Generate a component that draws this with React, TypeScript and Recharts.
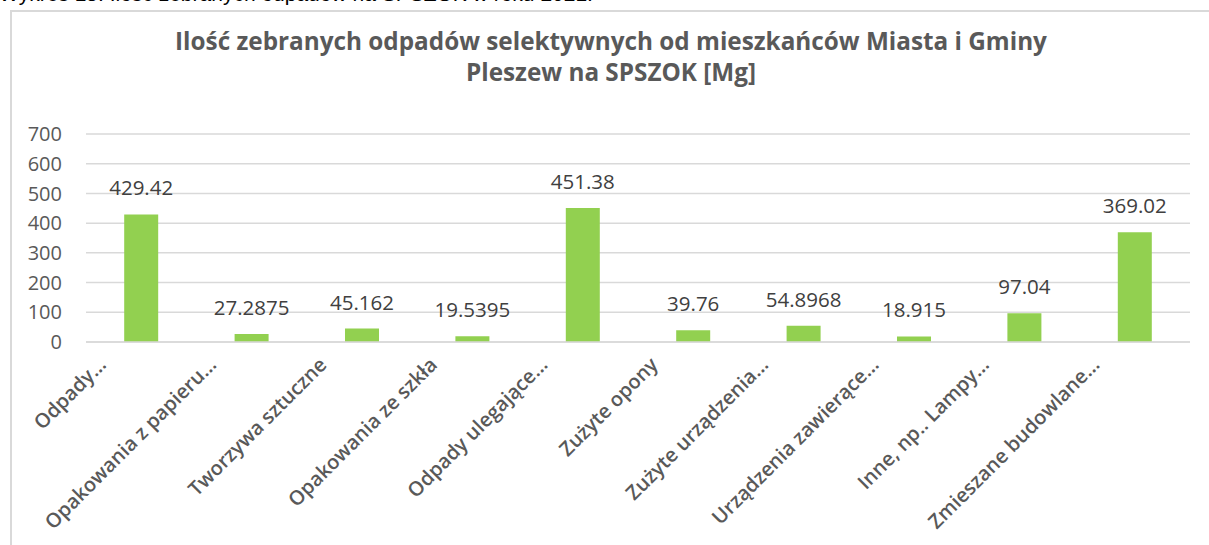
import React from 'react';
import { BarChart, Bar, XAxis, YAxis, CartesianGrid, LabelList } from 'recharts';

const caption = 'Wykres 15. Ilość zebranych odpadów na SPSZOK w roku 2021.';
const titleLines = [
  'Ilość zebranych odpadów selektywnych od mieszkańców Miasta i Gminy',
  'Pleszew na SPSZOK [Mg]',
];
const categories = [
  'Odpady…',
  'Opakowania z papieru…',
  'Tworzywa sztuczne',
  'Opakowania ze szkła',
  'Odpady ulegające…',
  'Zużyte opony',
  'Zużyte urządzenia…',
  'Urządzenia zawierące…',
  'Inne, np.. Lampy…',
  'Zmieszane budowlane…',
];
const values = [429.42, 27.2875, 45.162, 19.5395, 451.38, 39.76, 54.8968, 18.915, 97.04, 369.02];
const yTicks = [0, 100, 200, 300, 400, 500, 600, 700];

const data = categories.map((name, i) => ({ name, value: values[i] }));

const FONT = '"Open Sans", sans-serif';
const GRAY = '#595959';

const XTick = (props: any) => {
  const { x, y, payload } = props;
  return (
    <g transform={`translate(${x - 34},${y})`}>
      <text
        textAnchor="end"
        transform="rotate(-45)"
        fill={GRAY}
        fontSize={20}
        fontWeight={600}
        fontFamily={FONT}
      >
        {payload.value}
      </text>
    </g>
  );
};

export default function App() {
  return (
    <div
      style={{
        position: 'absolute',
        left: 0,
        top: 0,
        width: 1209,
        height: 545,
        overflow: 'hidden',
        background: '#fff',
      }}
    >
      <div
        style={{
          position: 'absolute',
          left: -1,
          top: -16,
          fontFamily: '"Liberation Sans", Arial, sans-serif',
          fontSize: 21,
          lineHeight: '20px',
          color: '#000',
          whiteSpace: 'nowrap',
        }}
      >
        {caption}
      </div>
      <div
        style={{
          position: 'absolute',
          left: 10,
          top: 10,
          width: 1400,
          height: 800,
          borderLeft: '2px solid #d9d9d9',
          borderTop: '2px solid #d9d9d9',
        }}
      />
      <div
        style={{
          position: 'absolute',
          left: 0,
          top: 25,
          width: 1222,
          textAlign: 'center',
          fontFamily: FONT,
          fontWeight: 700,
          fontSize: 24.3,
          lineHeight: '31px',
          color: GRAY,
        }}
      >
        {titleLines.map((l) => (
          <div key={l}>{l}</div>
        ))}
      </div>
      <div style={{ position: 'absolute', left: 0, top: 0 }}>
        <BarChart
          width={1209}
          height={545}
          data={data}
          margin={{ top: 134, right: 19, left: 26, bottom: 53 }}
          barCategoryGap="34.6%"
        >
          <CartesianGrid vertical={false} stroke="#d9d9d9" strokeWidth={1.5} />
          <XAxis
            dataKey="name"
            interval={0}
            height={150}
            tickLine={false}
            tickSize={0}
            tickMargin={24}
            axisLine={{ stroke: '#d9d9d9', strokeWidth: 1.5 }}
            tick={<XTick />}
          />
          <YAxis
            width={60}
            domain={[0, 700]}
            ticks={yTicks}
            tickLine={false}
            axisLine={false}
            tickSize={0}
            tickMargin={24}
            tick={{ fill: GRAY, fontSize: 20, fontFamily: FONT }}
          />
          <Bar dataKey="value" fill="#92d050" isAnimationActive={false}>
            <LabelList
              dataKey="value"
              position="top"
              offset={19}
              fill="#404040"
              fontSize={20.5}
              fontFamily={FONT}
            />
          </Bar>
        </BarChart>
      </div>
    </div>
  );
}
